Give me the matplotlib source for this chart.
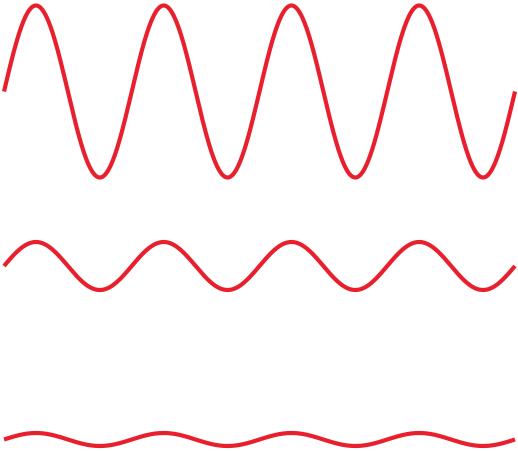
import numpy as np
import matplotlib
matplotlib.use("Agg")
import matplotlib.pyplot as plt

# wave parameters
amplitudes = [86, 24, 6.5]
centers = [91.5, 266, 439.5]
cycles = 4
x_start, x_end = 4, 515
color = "#e8202e"

fig = plt.figure(figsize=(5.18, 4.51), dpi=100)
ax = fig.add_axes([0, 0, 1, 1])
ax.set_xlim(0, 518)
ax.set_ylim(451, 0)
ax.axis("off")

x = np.linspace(x_start, x_end, 1000)
phase = (x - x_start) / (x_end - x_start) * cycles * 2 * np.pi
for a, c in zip(amplitudes, centers):
    ax.plot(x, c - a * np.sin(phase), color=color, lw=3.0, solid_capstyle="butt")

fig.savefig("out.png", dpi=100)
